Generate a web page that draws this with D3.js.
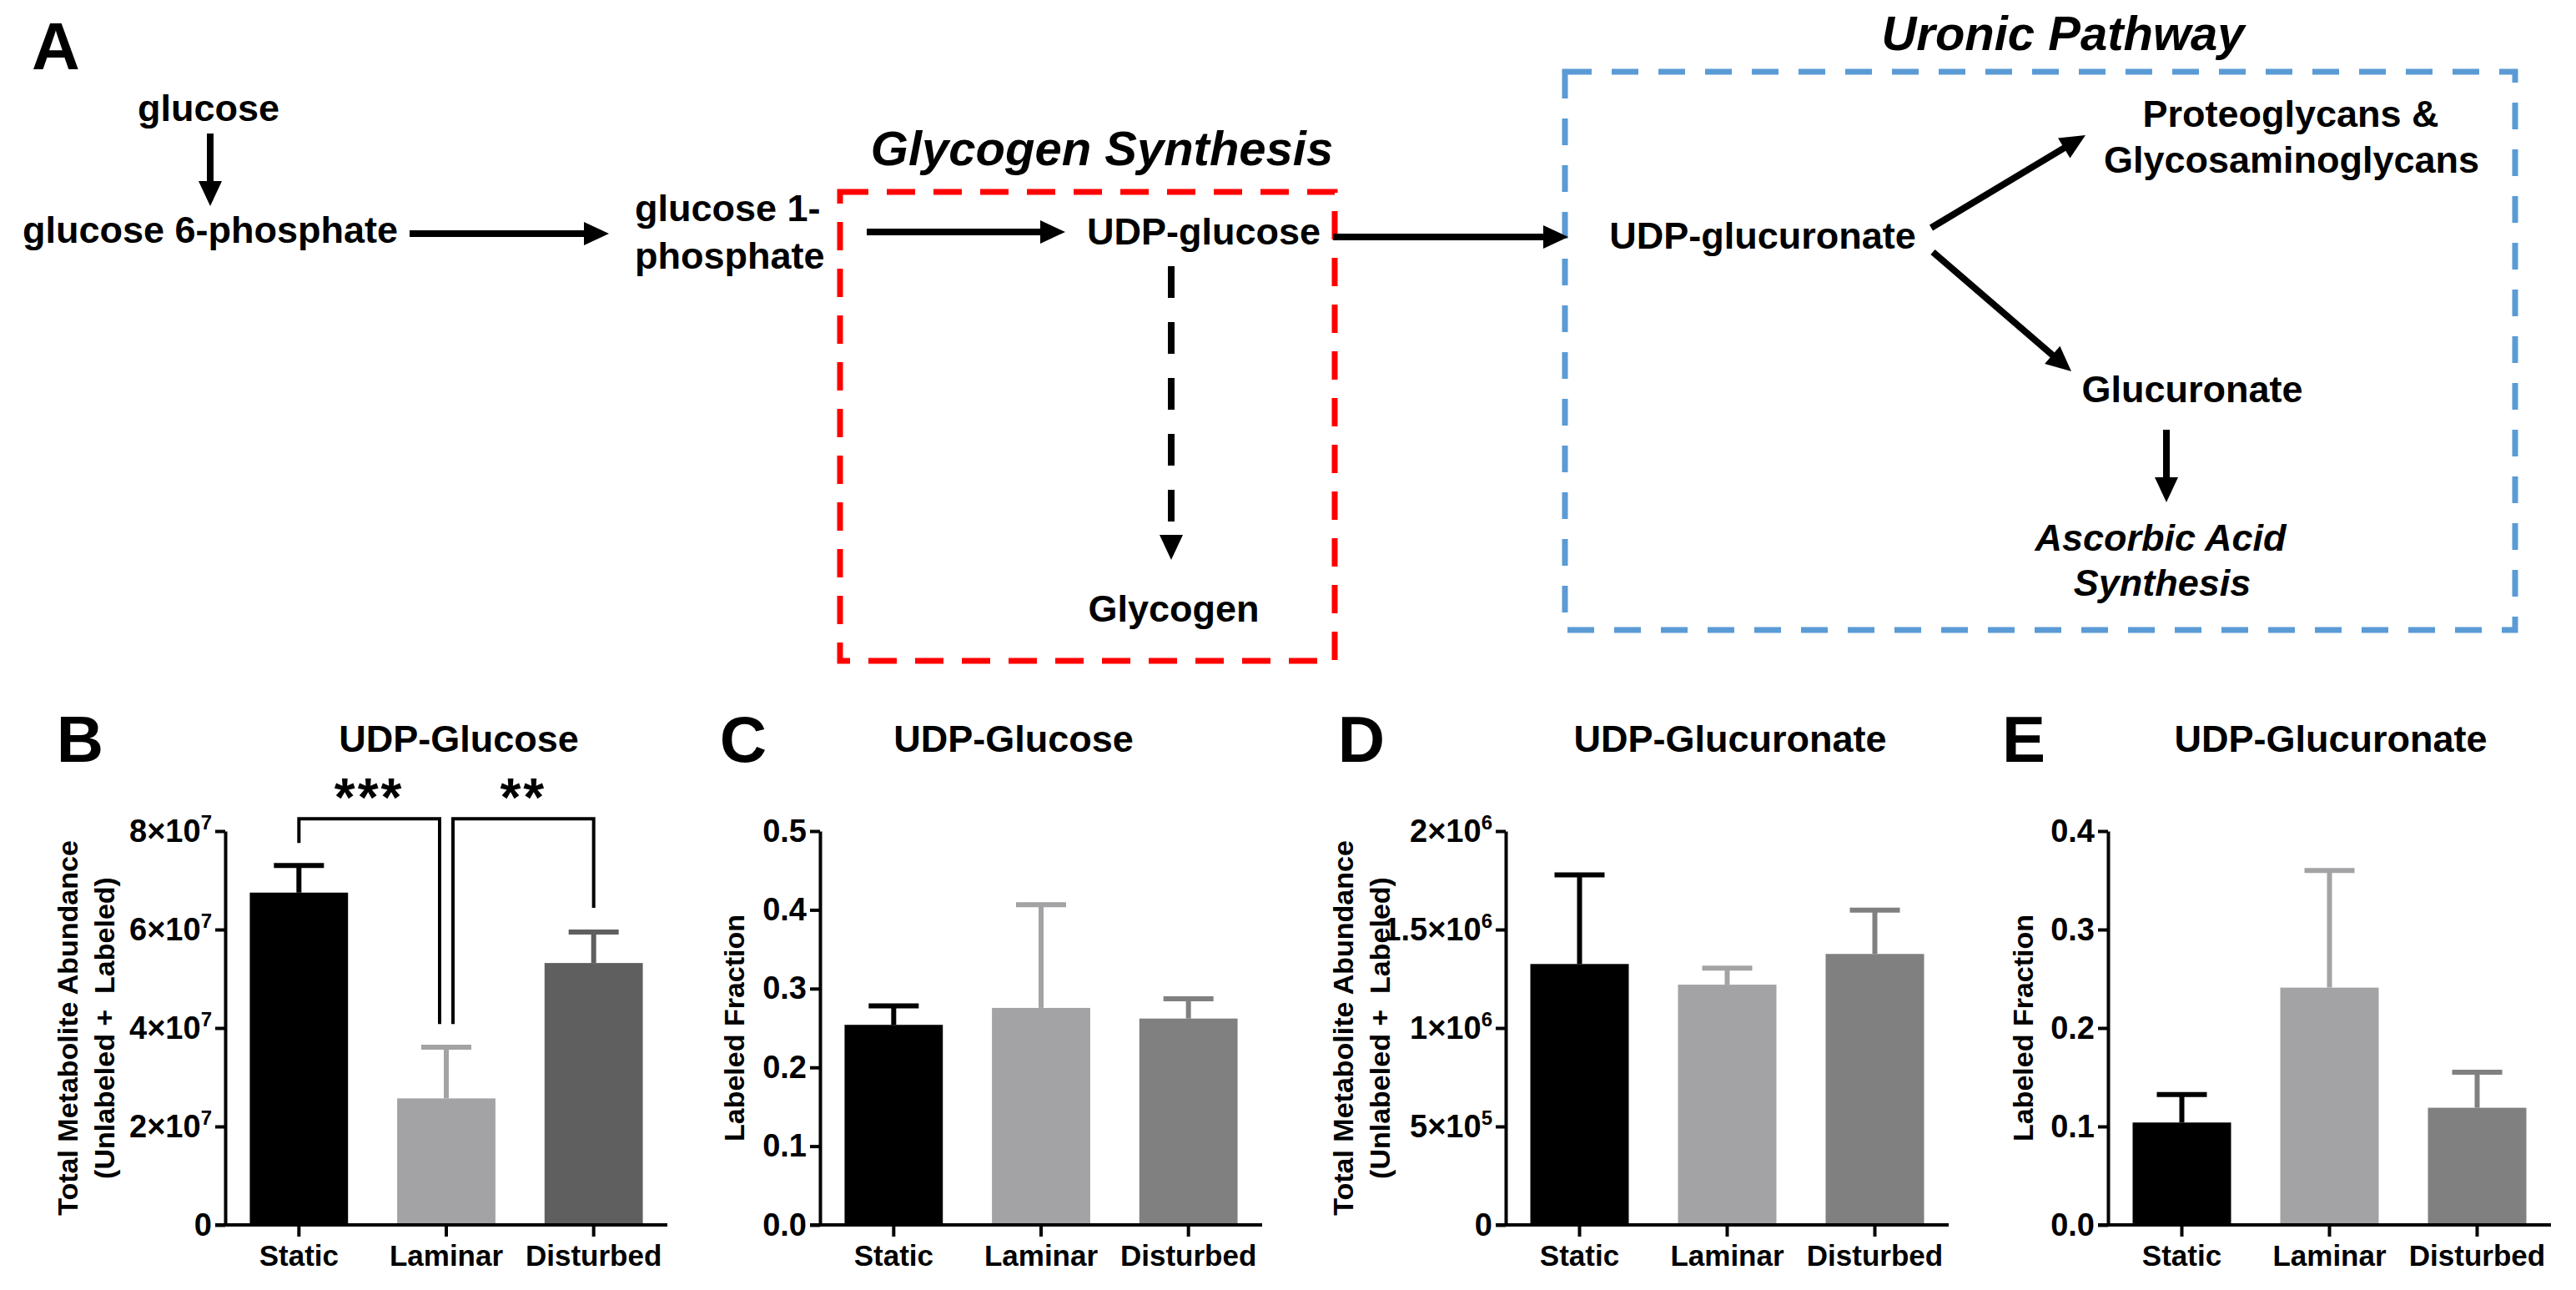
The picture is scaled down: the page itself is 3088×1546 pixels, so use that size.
<!DOCTYPE html>
<html>
<head>
<meta charset="utf-8">
<script src="https://cdn.jsdelivr.net/npm/d3@7"></script>
<style>
  html, body { margin: 0; padding: 0; background: #ffffff; }
  svg { display: block; }
  text { font-family: "Liberation Sans", Arial, Helvetica, sans-serif; font-weight: bold; fill: #000; }
</style>
</head>
<body>
<svg id="chart" width="3088" height="1546"></svg>
<script>
// ---------------- DATA ----------------
const groups = ["Static", "Laminar", "Disturbed"];

// B: UDP-Glucose, total metabolite abundance (mean, SEM)
const udpGlucoseTotal = [6.75e7, 2.57e7, 5.32e7];
const udpGlucoseTotalSem = [0.55e7, 1.04e7, 0.63e7];
const udpGlucoseTotalTicks = [0, 2e7, 4e7, 6e7, 8e7];
const udpGlucoseTotalTickBase = ["0", "2×10", "4×10", "6×10", "8×10"];
const udpGlucoseTotalTickExp = ["", "7", "7", "7", "7"];

// significance brackets in panel B
const sigPairs = [["Static", "Laminar"], ["Laminar", "Disturbed"]];
const sigLabels = ["***", "**"];
const sigTop = 8.25e7;
const sigLegEnds = [[7.76e7, 4.08e7], [4.08e7, 6.44e7]];

// C: UDP-Glucose, labeled fraction
const udpGlucoseFrac = [0.254, 0.2755, 0.262];
const udpGlucoseFracSem = [0.024, 0.131, 0.025];
const udpGlucoseFracTicks = [0, 0.1, 0.2, 0.3, 0.4, 0.5];
const udpGlucoseFracTickLabels = ["0.0", "0.1", "0.2", "0.3", "0.4", "0.5"];

// D: UDP-Glucuronate, total metabolite abundance
const udpGlcATotal = [1.325e6, 1.22e6, 1.376e6];
const udpGlcATotalSem = [0.453e6, 0.084e6, 0.222e6];
const udpGlcATotalTicks = [0, 5e5, 1e6, 1.5e6, 2e6];
const udpGlcATotalTickBase = ["0", "5×10", "1×10", "1.5×10", "2×10"];
const udpGlcATotalTickExp = ["", "5", "6", "6", "6"];

// E: UDP-Glucuronate, labeled fraction
const udpGlcAFrac = [0.104, 0.241, 0.119];
const udpGlcAFracSem = [0.0285, 0.119, 0.036];
const udpGlcAFracTicks = [0, 0.1, 0.2, 0.3, 0.4];
const udpGlcAFracTickLabels = ["0.0", "0.1", "0.2", "0.3", "0.4"];

const colorsB = ["#000000", "#a3a3a6", "#5f5f5f"];
const colorsCDE = ["#000000", "#a3a3a6", "#808080"];

// ---------------- DRAW ----------------
const svg = d3.select("#chart");
const Y0 = 1468, Y1 = 996;

function panel(cfg) {
  const g = svg.append("g");
  const x = d3.scaleBand().domain(groups).range([cfg.axisX, cfg.xEnd])
    .paddingInner(1 / 3).paddingOuter(1 / 6);
  const y = d3.scaleLinear().domain([0, cfg.ymax]).range([Y0, Y1]);

  // bars
  g.selectAll("rect.bar").data(groups).join("rect")
    .attr("class", "bar")
    .attr("x", d => x(d))
    .attr("width", x.bandwidth())
    .attr("y", (d, i) => y(cfg.vals[i]))
    .attr("height", (d, i) => y(0) - y(cfg.vals[i]))
    .attr("fill", (d, i) => cfg.colors[i]);

  // error bars (mean + SEM, upward)
  const eb = g.selectAll("g.err").data(groups).join("g").attr("class", "err");
  eb.append("line")
    .attr("x1", d => x(d) + x.bandwidth() / 2)
    .attr("x2", d => x(d) + x.bandwidth() / 2)
    .attr("y1", (d, i) => y(cfg.vals[i]))
    .attr("y2", (d, i) => y(cfg.vals[i] + cfg.sem[i]))
    .attr("stroke", (d, i) => cfg.colors[i]).attr("stroke-width", 6);
  eb.append("line")
    .attr("x1", d => x(d) + x.bandwidth() / 2 - 30)
    .attr("x2", d => x(d) + x.bandwidth() / 2 + 30)
    .attr("y1", (d, i) => y(cfg.vals[i] + cfg.sem[i]))
    .attr("y2", (d, i) => y(cfg.vals[i] + cfg.sem[i]))
    .attr("stroke", (d, i) => cfg.colors[i]).attr("stroke-width", 6);

  // y axis
  const ya = g.append("g").attr("transform", `translate(${cfg.axisX},0)`)
    .call(d3.axisLeft(y).tickValues(cfg.ticks).tickSize(12).tickSizeOuter(0).tickPadding(4).tickFormat(() => ""));
  ya.attr("font-size", 38).attr("font-family", null);
  ya.select(".domain").attr("stroke", "#000").attr("stroke-width", 4);
  ya.selectAll(".tick line").attr("stroke", "#000").attr("stroke-width", 4);
  ya.selectAll(".tick text").each(function (d, i) {
    const t = d3.select(this).attr("fill", "#000");
    t.append("tspan").text(cfg.tickBase[i]);
    if (cfg.tickExp && cfg.tickExp[i]) {
      t.append("tspan").attr("font-size", 24).attr("dy", "-0.62em").text(cfg.tickExp[i]);
    }
  });

  // x axis
  const xa = g.append("g").attr("transform", `translate(0,${Y0})`)
    .call(d3.axisBottom(x).tickSize(14).tickSizeOuter(0).tickPadding(10));
  xa.attr("font-size", 35).attr("font-family", null);
  xa.select(".domain").remove();
  xa.selectAll(".tick line").attr("stroke", "#000").attr("stroke-width", 4);
  xa.selectAll(".tick text").attr("fill", "#000");
  const xr = x.range();
  g.append("line").attr("x1", xr[0] - 12).attr("x2", xr[1]).attr("y1", Y0).attr("y2", Y0)
    .attr("stroke", "#000").attr("stroke-width", 4);

  // axis title
  g.append("text")
    .attr("transform", `translate(${cfg.titleX[0]},${(Y0 + Y1) / 2}) rotate(-90)`)
    .attr("text-anchor", "middle").attr("font-size", 34).attr("dy", "0.35em")
    .style("white-space", "pre")
    .text(cfg.yTitle[0]);
  if (cfg.yTitle[1]) {
    g.append("text")
      .attr("transform", `translate(${cfg.titleX[1]},${(Y0 + Y1) / 2}) rotate(-90)`)
      .attr("text-anchor", "middle").attr("font-size", 34).attr("dy", "0.35em")
      .style("white-space", "pre")
      .text(cfg.yTitle[1]);
  }

  // panel title + letter
  g.append("text").attr("x", cfg.titleCX).attr("y", 901).attr("text-anchor", "middle")
    .attr("font-size", 45).text(cfg.title);
  g.append("text").attr("x", cfg.letterX).attr("y", 913).attr("text-anchor", "middle")
    .attr("font-size", 78).text(cfg.letter);

  return { x, y, g };
}

const pB = panel({
  axisX: 270, xEnd: 800, ymax: 8e7, vals: udpGlucoseTotal, sem: udpGlucoseTotalSem, colors: colorsB,
  ticks: udpGlucoseTotalTicks, tickBase: udpGlucoseTotalTickBase, tickExp: udpGlucoseTotalTickExp,
  yTitle: ["Total Metabolite Abundance", "(Unlabeled +  Labeled)"], titleX: [81, 125],
  title: "UDP-Glucose", titleCX: 550, letter: "B", letterX: 96
});
panel({
  axisX: 983, xEnd: 1513, ymax: 0.5, vals: udpGlucoseFrac, sem: udpGlucoseFracSem, colors: colorsCDE,
  ticks: udpGlucoseFracTicks, tickBase: udpGlucoseFracTickLabels, tickExp: null,
  yTitle: ["Labeled Fraction"], titleX: [880],
  title: "UDP-Glucose", titleCX: 1215, letter: "C", letterX: 891
});
panel({
  axisX: 1805, xEnd: 2336, ymax: 2e6, vals: udpGlcATotal, sem: udpGlcATotalSem, colors: colorsCDE,
  ticks: udpGlcATotalTicks, tickBase: udpGlcATotalTickBase, tickExp: udpGlcATotalTickExp,
  yTitle: ["Total Metabolite Abundance", "(Unlabeled +  Labeled)"], titleX: [1610, 1654],
  title: "UDP-Glucuronate", titleCX: 2074, letter: "D", letterX: 1632
});
panel({
  axisX: 2527, xEnd: 3058, ymax: 0.4, vals: udpGlcAFrac, sem: udpGlcAFracSem, colors: colorsCDE,
  ticks: udpGlcAFracTicks, tickBase: udpGlcAFracTickLabels, tickExp: null,
  yTitle: ["Labeled Fraction"], titleX: [2425],
  title: "UDP-Glucuronate", titleCX: 2794, letter: "E", letterX: 2426
});

// significance brackets (panel B)
(function () {
  const { x, y, g } = pB;
  const cx = d => x(d) + x.bandwidth() / 2;
  sigPairs.forEach((pair, i) => {
    const xa = cx(pair[0]) + (pair[0] === "Laminar" ? 8 : 0);
    const xb = cx(pair[1]) - (pair[1] === "Laminar" ? 8 : 0);
    const path = d3.path();
    path.moveTo(xa, y(sigLegEnds[i][0]));
    path.lineTo(xa, y(sigTop));
    path.lineTo(xb, y(sigTop));
    path.lineTo(xb, y(sigLegEnds[i][1]));
    g.append("path").attr("d", path.toString()).attr("fill", "none")
      .attr("stroke", "#000").attr("stroke-width", 4);
    g.append("text").attr("x", (xa + xb) / 2).attr("y", y(sigTop) - 3)
      .attr("text-anchor", "middle").attr("font-size", 64).attr("letter-spacing", 3)
      .text(sigLabels[i]);
  });
})();

// ---------------- PANEL A: pathway diagram ----------------
const A = svg.append("g");
A.append("text").attr("x", 67).attr("y", 83).attr("text-anchor", "middle").attr("font-size", 80).text("A");

// dashed boxes
A.append("rect").attr("x", 1007).attr("y", 230).attr("width", 593).attr("height", 562)
  .attr("fill", "none").attr("stroke", "#ff0000").attr("stroke-width", 7).attr("stroke-dasharray", "34 22");
A.append("rect").attr("x", 1876).attr("y", 86).attr("width", 1139).attr("height", 669)
  .attr("fill", "none").attr("stroke", "#5b9bd5").attr("stroke-width", 7).attr("stroke-dasharray", "32 24");

const nodes = [
  { t: "glucose", x: 250, y: 145 },
  { t: "glucose 6-phosphate", x: 252, y: 291 },
  { t: "glucose 1-", x: 761, y: 265, a: "start" },
  { t: "phosphate", x: 761, y: 322, a: "start" },
  { t: "UDP-glucose", x: 1443, y: 293 },
  { t: "Glycogen", x: 1407, y: 745 },
  { t: "UDP-glucuronate", x: 2113, y: 298 },
  { t: "Proteoglycans &", x: 2746, y: 152 },
  { t: "Glycosaminoglycans", x: 2747, y: 207 },
  { t: "Glucuronate", x: 2628, y: 482 },
  { t: "Ascorbic Acid", x: 2590, y: 660, it: true },
  { t: "Synthesis", x: 2592, y: 714, it: true },
  { t: "Glycogen Synthesis", x: 1321, y: 198, it: true, s: 58 },
  { t: "Uronic Pathway", x: 2473, y: 60, it: true, s: 58 }
];
A.selectAll("text.node").data(nodes).join("text").attr("class", "node")
  .attr("x", d => d.x).attr("y", d => d.y)
  .attr("text-anchor", d => d.a || "middle")
  .attr("font-size", d => d.s || 45)
  .attr("font-style", d => d.it ? "italic" : "normal")
  .text(d => d.t);

function arrow(x1, y1, x2, y2, dashed) {
  const L = 30, W = 14;
  const dx = x2 - x1, dy = y2 - y1, len = Math.hypot(dx, dy);
  const ux = dx / len, uy = dy / len;
  const bx = x2 - ux * L, by = y2 - uy * L;
  A.append("line").attr("x1", x1).attr("y1", y1).attr("x2", bx + ux * 2).attr("y2", by + uy * 2)
    .attr("stroke", "#000").attr("stroke-width", 8)
    .attr("stroke-dasharray", dashed ? "38 29" : null);
  A.append("path")
    .attr("d", `M${x2},${y2}L${bx - uy * W},${by + ux * W}L${bx + uy * W},${by - ux * W}Z`)
    .attr("fill", "#000");
}
arrow(252, 160, 252, 247);
arrow(491, 280, 730, 280);
arrow(1039, 278, 1277, 278);
arrow(1404, 319, 1404, 671, true);
arrow(1598, 284, 1880, 284);
arrow(2315, 273, 2500, 162);
arrow(2317, 302, 2483, 445);
arrow(2597, 515, 2597, 602);
</script>
</body>
</html>
